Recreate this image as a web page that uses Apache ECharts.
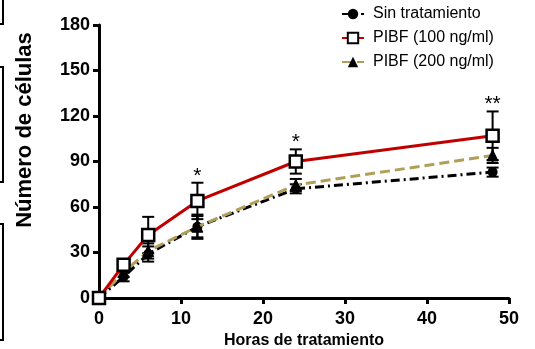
<!DOCTYPE html>
<html><head><meta charset="utf-8">
<script src="https://cdn.jsdelivr.net/npm/echarts@6/dist/echarts.min.js"></script>
<style>html,body{margin:0;padding:0;background:#fff}#c{width:535px;height:349px}</style>
</head><body><div id="c"></div>
<script>
var hours = [0, 3, 6, 12, 24, 48];
var sinTratamiento = [0, 14, 29, 47, 72, 83];
var sinErr = [0, 3, 5, 8, 3, 3];
var pibf100 = [0, 22, 41.5, 64, 90, 107];
var pibf100Err = [0, 3, 12, 12, 8, 16];
var pibf200 = [0, 17, 31, 47, 74.5, 94];
var pibf200Err = [0, 3, 5, 7, 4, 5];
var starX = [12, 24, 48];
var starY = [80, 103, 128];
var starText = ['*', '*', '**'];
var xTicks = [0, 10, 20, 30, 40, 50];
var yTicks = [0, 30, 60, 90, 120, 150, 180];
var yTitle = 'Número de células';
var xTitle = 'Horas de tratamiento';

var FONT = 'Liberation Sans';
function pairs(xs, ys){ return xs.map(function(x,i){return [x, ys[i]];}); }
function errSeries(vals, errs, z){
  return {
    type: 'custom', z: z, silent: true,
    data: hours.map(function(h,i){return [h, vals[i], errs[i]];}),
    renderItem: function(params, api){
      var x = api.value(0), y = api.value(1), e = api.value(2);
      if (!e) return null;
      var top = api.coord([x, y + e]), bot = api.coord([x, y - e]);
      var w = 6;
      return {type:'group', children:[
        {type:'line', shape:{x1:top[0], y1:top[1], x2:bot[0], y2:bot[1]}, style:{stroke:'#000', lineWidth:2}},
        {type:'line', shape:{x1:top[0]-w, y1:top[1], x2:top[0]+w, y2:top[1]}, style:{stroke:'#000', lineWidth:2}},
        {type:'line', shape:{x1:bot[0]-w, y1:bot[1], x2:bot[0]+w, y2:bot[1]}, style:{stroke:'#000', lineWidth:2}}
      ]};
    }
  };
}
var chart = echarts.init(document.getElementById('c'));
chart.setOption({
  animation: false,
  backgroundColor: '#fff',
  grid: {left: 99, right: 26, top: 25, bottom: 51, containLabel: false, outerBoundsMode: 'none'},
  legend: {
    orient: 'vertical', left: 336, top: 1, itemWidth: 22, itemHeight: 13, itemGap: 8,
    textStyle: {fontFamily: FONT, fontSize: 16, color: '#000', padding: [0, 0, 0, 4]},
    data: ['Sin tratamiento', 'PIBF (100 ng/ml)', 'PIBF (200 ng/ml)']
  },
  xAxis: {
    type: 'value', min: 0, max: 50, interval: 10,
    name: xTitle, nameLocation: 'middle', nameGap: 35,
    nameTextStyle: {fontFamily: FONT, fontWeight: 'bold', fontSize: 16, color: '#000'},
    axisLine: {lineStyle: {color: '#000', width: 3}},
    axisTick: {show: true, length: 6, lineStyle: {color: '#000', width: 3}},
    axisLabel: {fontFamily: FONT, fontWeight: 'bold', fontSize: 18, color: '#000', margin: 12,
      formatter: function(v){ return xTicks.indexOf(v) >= 0 ? String(v) : ''; }},
    splitLine: {show: false}
  },
  yAxis: {
    type: 'value', min: 0, max: 180, interval: 30,
    axisLine: {show: true, lineStyle: {color: '#000', width: 3}},
    axisTick: {show: true, length: 6, lineStyle: {color: '#000', width: 3}},
    axisLabel: {fontFamily: FONT, fontWeight: 'bold', fontSize: 18, color: '#000', margin: 9,
      formatter: function(v){ return yTicks.indexOf(v) >= 0 ? String(v) : ''; }},
    splitLine: {show: false}
  },
  series: [
    errSeries(sinTratamiento, sinErr, 2),
    errSeries(pibf200, pibf200Err, 2),
    errSeries(pibf100, pibf100Err, 2),
    {
      name: 'Sin tratamiento', type: 'line', z: 3, data: pairs(hours, sinTratamiento),
      symbol: 'circle', symbolSize: 10,
      itemStyle: {color: '#000'},
      lineStyle: {color: '#000', width: 3, type: [9, 4, 2, 4]}
    },
    {
      name: 'PIBF (200 ng/ml)', type: 'line', z: 4, data: pairs(hours, pibf200),
      symbol: 'triangle', symbolSize: 11,
      itemStyle: {color: '#000', borderColor: '#000'},
      lineStyle: {color: '#b09f58', width: 3, type: [10, 5]}
    },
    {
      name: 'PIBF (100 ng/ml)', type: 'line', z: 5, data: pairs(hours, pibf100),
      symbol: 'rect', symbolSize: 12,
      itemStyle: {color: '#fff', borderColor: '#000', borderWidth: 2.5},
      lineStyle: {color: '#c00000', width: 3, type: 'solid'}
    },
    {
      type: 'custom', z: 6, silent: true,
      data: starX.map(function(x,i){return [x, starY[i], starText[i]];}),
      renderItem: function(params, api){
        var p = api.coord([api.value(0), api.value(1)]);
        return {type:'text', x: p[0], y: p[1], style:{text: starText[params.dataIndex], fontFamily: FONT, fontSize: 21, fill:'#000', align:'center', verticalAlign:'middle'}};
      }
    }
  ],
  graphic: [
    {type:'text', x: 25, y: 130, rotation: Math.PI / 2,
      style:{text: yTitle, fontFamily: FONT, fontWeight: 'bold', fontSize: 22, fill:'#000', align:'center', verticalAlign:'middle'}},
    {type:'polyline', shape:{points:[[3,0],[3,24],[0,24]]}, style:{stroke:'#000', lineWidth:2, fill:null}},
    {type:'polyline', shape:{points:[[0,67],[3,67],[3,182],[0,182]]}, style:{stroke:'#000', lineWidth:2, fill:null}},
    {type:'polyline', shape:{points:[[0,224],[3,224],[3,340],[0,340]]}, style:{stroke:'#000', lineWidth:2, fill:null}}
  ]
});
</script></body></html>
